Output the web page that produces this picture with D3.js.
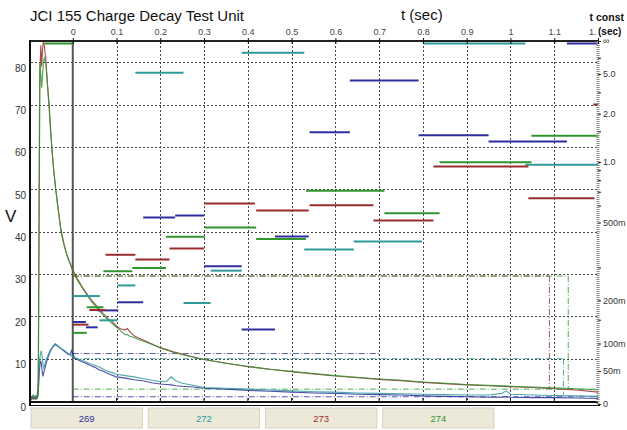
<!DOCTYPE html>
<html lang="en">
<head>
<meta charset="UTF-8">
<title>JCI 155 Charge Decay Test Unit</title>
<script src="https://cdnjs.cloudflare.com/ajax/libs/d3/7.8.5/d3.min.js"></script>
<style>
  body { margin: 0; background: #fff; }
  svg text { font-family: 'Liberation Sans', Arial, sans-serif; }
</style>
</head>
<body>
<svg id="chart" width="627" height="430"></svg>
<script>
// series (test numbers shown on the buttons)
const seriesNames = ["269", "272", "273", "274"];
const seriesColors = { "269": "#2e2e9e", "272": "#2f9a9a", "273": "#9a2c2c", "274": "#2f962f" };

// axis ticks
const timeTicks = [0, 0.1, 0.2, 0.3, 0.4, 0.5, 0.6, 0.7, 0.8, 0.9, 1, 1.1, 1.2];
const voltTicks = [0, 10, 20, 30, 40, 50, 60, 70, 80];
const tauTicks = [Infinity, 5, 2, 1, 0.5, 0.2, 0.1, 0.05, 0];
const tauLabels = ["∞", "5.0", "2.0", "1.0", "500m", "200m", "100m", "50m", "0"];
const tauMinor = [10, 3, 1.5, 0.9, 0.8, 0.7, 0.6, 0.3, 0.15];

// decay curves, volts against seconds
const tBig = [
  -0.1, -0.095, -0.09, -0.085, -0.081, -0.079, -0.078, -0.077, -0.076, -0.075,
  -0.073, -0.071, -0.069, -0.067, -0.065, -0.063, -0.061, -0.058, -0.054, -0.051,
  -0.048, -0.044, -0.039, -0.033, -0.027, -0.02, -0.013, -0.006, 0, 0.01,
  0.02, 0.03, 0.04, 0.05, 0.06, 0.07, 0.08, 0.09, 0.1, 0.11,
  0.12, 0.125, 0.13, 0.14, 0.15, 0.17, 0.2, 0.23, 0.26, 0.3,
  0.35, 0.4, 0.45, 0.5, 0.55, 0.6, 0.65, 0.7, 0.75, 0.8,
  0.85, 0.9, 0.95, 1.0, 1.05, 1.1, 1.15, 1.2
];
const v273 = [
  0.6, 1.0, 0.4, 0.8, 1.2, 3, 24, 42, 60, 78,
  84, 79, 83, 85, 84, 82, 80, 75, 70, 65,
  60, 55, 50, 45, 40.5, 37, 34.5, 32.5, 31, 29,
  27.2, 25.6, 24.2, 23, 21.8, 20.6, 19.5, 18.8, 17.6, 17.0,
  16.8, 17.1, 16.4, 15.4, 14.9, 14.0, 12.6, 11.6, 10.8, 9.8,
  8.9, 8.1, 7.5, 6.9, 6.4, 5.9, 5.5, 5.1, 4.8, 4.4,
  4.1, 3.8, 3.6, 3.4, 3.2, 2.9, 2.6, 2.1
];
const v274 = [
  0.4, 0.9, 1.1, 0.5, 0.7, 2, 14, 48, 70, 80,
  77, 74, 77, 80, 81, 80.5, 79, 75, 69, 64,
  60, 55, 50, 45, 40, 36.8, 34.2, 32.4, 30.6, 28.6,
  27, 25.4, 23.8, 22.6, 21.4, 20.2, 19.2, 18.3, 17.4, 16.5,
  15.6, 15.7, 15.3, 15.0, 14.5, 13.8, 12.5, 11.5, 10.7, 9.8,
  8.9, 8.2, 7.5, 7.0, 6.5, 6.0, 5.6, 5.2, 4.9, 4.5,
  4.2, 3.9, 3.7, 3.5, 3.3, 3.1, 2.9, 2.6
];
const tSmall = [
  -0.1, -0.095, -0.092, -0.089, -0.086, -0.084, -0.082, -0.08, -0.078, -0.076,
  -0.074, -0.072, -0.07, -0.068, -0.066, -0.063, -0.06, -0.055, -0.05, -0.045,
  -0.04, -0.035, -0.03, -0.025, -0.02, -0.015, -0.01, -0.006, -0.003, 0,
  0.005, 0.01, 0.02, 0.03, 0.04, 0.05, 0.06, 0.07, 0.08, 0.09,
  0.1, 0.12, 0.14, 0.16, 0.18, 0.2, 0.215, 0.225, 0.235, 0.25,
  0.275, 0.3, 0.35, 0.4, 0.45, 0.5, 0.55, 0.6, 0.65, 0.7,
  0.75, 0.8, 0.85, 0.9, 0.95, 0.98, 0.99, 1.0, 1.05, 1.1,
  1.15, 1.2
];
const v269 = [
  0.8, 0.3, 1.2, 0.5, 1.0, 0.4, 0.6, 1.0, 3.5, 7.5,
  9.5, 9.0, 7.0, 5.8, 6.8, 8.0, 9.2, 10.8, 12.0, 12.8,
  13.4, 13.0, 12.6, 12.2, 11.8, 11.4, 11.0, 10.9, 11.9, 11.2,
  10.0, 9.8, 9.3, 8.9, 8.4, 8.0, 7.4, 7.0, 6.5, 6.1,
  5.7, 5.4, 5.0, 4.8, 4.3, 4.0, 3.9, 3.8, 3.6, 3.5,
  3.3, 3.0, 2.8, 2.5, 2.3, 2.1, 1.9, 1.8, 1.6, 1.5,
  1.4, 1.2, 1.1, 1.0, 0.9, 0.9, 1.0, 0.9, 0.8, 0.8,
  0.7, 0.6
];
const v272 = [
  0.5, 1.0, 0.6, 1.4, 0.7, 1.2, 0.8, 2.5, 6.0, 9.5,
  11.0, 11.9, 10.5, 8.6, 7.8, 9.0, 10.0, 11.2, 12.2, 13.0,
  13.5, 13.1, 12.7, 12.3, 12.0, 11.6, 11.2, 11.0, 10.8, 10.5,
  10.3, 10.0, 9.6, 9.2, 8.8, 8.5, 8.0, 7.5, 7.0, 6.7,
  6.3, 6.0, 5.7, 5.3, 4.9, 4.6, 4.7, 5.7, 4.8, 4.2,
  3.7, 3.2, 3.0, 2.8, 2.6, 2.4, 2.2, 2.1, 1.9, 1.8,
  1.7, 1.6, 1.5, 1.4, 1.4, 1.8, 2.4, 1.6, 1.4, 1.3,
  1.2, 1.1
];

// time constant readings: [from s, to s, t const s]
const tc269 = [
  [0, 0.03, 0.147], [0.03, 0.057, 0.135], [0.056, 0.104, 0.175], [0.102, 0.161, 0.196],
  [0.161, 0.234, 0.531], [0.234, 0.3, 0.543], [0.3, 0.386, 0.308], [0.386, 0.462, 0.13],
  [0.462, 0.539, 0.431], [0.541, 0.633, 1.5], [0.633, 0.79, 4.16], [0.79, 0.95, 1.437],
  [0.95, 1.129, 1.315], [1.129, 1.2, Infinity]
];
const tc272 = [
  [0, 0.062, 0.213], [0.061, 0.102, 0.151], [0.102, 0.143, 0.244], [0.143, 0.253, 5.3],
  [0.253, 0.315, 0.194], [0.315, 0.386, 0.292], [0.386, 0.529, 15.5], [0.529, 0.642, 0.373],
  [0.642, 0.798, 0.407], [0.801, 1.034, Infinity], [1.034, 1.2, 0.972]
];
const tc273 = [
  [0, 0.036, 0.141], [0.038, 0.075, 0.176], [0.075, 0.143, 0.351], [0.143, 0.221, 0.333],
  [0.221, 0.3, 0.377], [0.3, 0.416, 0.62], [0.419, 0.539, 0.574], [0.541, 0.687, 0.609],
  [0.687, 0.824, 0.514], [0.824, 1.041, 0.952], [1.041, 1.192, 0.658], [1.189, 1.2, 2.38]
];
const tc274 = [
  [-0.064, 0, Infinity], [0, 0.032, 0.123], [0.032, 0.07, 0.183], [0.07, 0.136, 0.29],
  [0.136, 0.213, 0.301], [0.213, 0.302, 0.429], [0.302, 0.419, 0.476], [0.419, 0.533, 0.419],
  [0.533, 0.712, 0.716], [0.712, 0.838, 0.557], [0.838, 1.048, 1.004], [1.048, 1.2, 1.425]
];

// decay measurement markers: start level V, crossing time s, end level V
const levelHi = { "269": 11.2, "272": 10.0, "273": 29.5, "274": 29.5 };
const crossT = { "269": 0.701, "272": 1.121, "273": 1.089, "274": 1.132 };
const crossEnd = { "272": 1.4, "273": 3.0, "274": 3.0 };
const levelLo = { "269": 1.0, "274": 2.8 };

const svg = d3.select("#chart");
const x = d3.scaleLinear().domain([-0.1, 1.2]).range([29, 598]);
const yV = d3.scaleLinear().domain([0, 85]).range([401, 41]);
const yF = d3.scaleLinear().domain([0, 1]).range([404, 41]);
const toF = tau => tau === Infinity ? 1 : tau / (tau + 0.5);
const yTau = tau => tau === Infinity ? yF(1) + 2 : yF(toF(tau));

svg.append("rect").attr("width", 627).attr("height", 430).attr("fill", "#fff");

svg.append("defs").append("clipPath").attr("id", "plot")
  .append("rect").attr("x", 30).attr("y", 40).attr("width", 568).attr("height", 362);

// grid
const grid = svg.append("g").attr("stroke", "#444").attr("stroke-dasharray", "2,2").attr("stroke-width", 1);
grid.selectAll(".gx").data(timeTicks.filter(d => d > 0 && d < 1.2)).join("line")
  .attr("x1", d => Math.round(x(d)) + 0.5).attr("x2", d => Math.round(x(d)) + 0.5)
  .attr("y1", 42).attr("y2", 401);
grid.selectAll(".gy").data(voltTicks.filter(d => d > 0)).join("line")
  .attr("x1", 31).attr("x2", 597)
  .attr("y1", d => Math.round(yV(d)) + 0.5).attr("y2", d => Math.round(yV(d)) + 0.5);

// t = 0 line
svg.append("line").attr("x1", x(0)).attr("x2", x(0)).attr("y1", 41).attr("y2", 402)
  .attr("stroke", "#555").attr("stroke-width", 2);

const plot = svg.append("g").attr("clip-path", "url(#plot)");

// decay markers
const markers = plot.append("g").attr("fill", "none").attr("stroke-width", 1).attr("stroke-dasharray", "6,2,1,2");
seriesNames.forEach(s => {
  const g = markers.append("g").attr("stroke", seriesColors[s]).attr("opacity", 0.8);
  g.append("line").attr("x1", x(0)).attr("x2", x(crossT[s]))
    .attr("y1", yV(levelHi[s])).attr("y2", yV(levelHi[s]));
  if (s in levelLo) {
    g.append("line").attr("x1", x(0)).attr("x2", x(1.2))
      .attr("y1", yV(levelLo[s])).attr("y2", yV(levelLo[s]));
  }
  if (s in crossEnd) {
    g.append("line").attr("x1", x(crossT[s])).attr("x2", x(crossT[s]))
      .attr("y1", yV(levelHi[s])).attr("y2", yV(crossEnd[s]));
  }
});

// curves
const line = d3.line().x(d => x(d[0])).y(d => yV(d[1]));
const curves = [
  ["269", tSmall, v269], ["272", tSmall, v272], ["273", tBig, v273], ["274", tBig, v274]
];
curves.forEach(([s, ts, vs]) => {
  plot.append("path").datum(ts.map((t, i) => [t, vs[i]]))
    .attr("d", line).attr("fill", "none")
    .attr("stroke", seriesColors[s]).attr("stroke-width", 1.1).attr("opacity", 0.85);
});

// time constant bars
const tcData = { "269": tc269, "272": tc272, "273": tc273, "274": tc274 };
seriesNames.forEach(s => {
  plot.append("g").selectAll("line").data(tcData[s]).join("line")
    .attr("x1", d => x(d[0])).attr("x2", d => x(d[1]))
    .attr("y1", d => yTau(d[2]) + 0.5).attr("y2", d => yTau(d[2]) + 0.5)
    .attr("stroke", seriesColors[s]).attr("stroke-width", 2);
});

// frame
svg.append("line").attr("x1", 29).attr("x2", 598).attr("y1", 41).attr("y2", 41)
  .attr("stroke", "#222").attr("stroke-width", 2);
svg.append("line").attr("x1", 30).attr("x2", 30).attr("y1", 40).attr("y2", 406)
  .attr("stroke", "#111").attr("stroke-width", 2);
svg.append("line").attr("x1", 29).attr("x2", 598).attr("y1", 402).attr("y2", 402)
  .attr("stroke", "#111").attr("stroke-width", 2);
svg.append("line").attr("x1", 29).attr("x2", 600).attr("y1", 405.5).attr("y2", 405.5)
  .attr("stroke", "#111").attr("stroke-width", 1);
svg.append("line").attr("x1", 598).attr("x2", 598).attr("y1", 41).attr("y2", 405)
  .attr("stroke", "#888").attr("stroke-width", 3).attr("stroke-dasharray", "1,1");
svg.append("g").selectAll("line").data(timeTicks.slice(1, -1)).join("line")
  .attr("x1", d => x(d)).attr("x2", d => x(d)).attr("y1", 398).attr("y2", 402)
  .attr("stroke", "#111");

// top axis (time); the last label is partly hidden behind "(sec)" as in the original
const topAxis = svg.append("g").attr("transform", "translate(0,41)")
  .call(d3.axisTop(x).tickValues(timeTicks).tickSize(3).tickPadding(3)
    .tickFormat(d => d === 1.2 ? "1." : String(d)));
topAxis.select(".domain").remove();
topAxis.selectAll(".tick line").attr("y1", 3).attr("stroke", "#111");
topAxis.selectAll(".tick text").attr("font-size", 9).attr("fill", "#444");
topAxis.selectAll(".tick text").filter(d => d === 1.2).attr("text-anchor", "end").attr("dx", -2);

// left axis (volts)
const leftAxis = svg.append("g").attr("transform", "translate(30,0)")
  .call(d3.axisLeft(yV).tickValues(voltTicks).tickSize(0).tickPadding(4));
leftAxis.select(".domain").remove();
leftAxis.selectAll(".tick text").attr("font-size", 10).attr("fill", "#333").attr("dy", "0.9em");

// right axis (time constant)
const rightAxis = svg.append("g").attr("transform", "translate(598,0)")
  .call(d3.axisRight(yF).tickValues(tauTicks.map(toF)).tickSize(3).tickPadding(2)
    .tickFormat((d, i) => tauLabels[i]));
rightAxis.select(".domain").remove();
rightAxis.selectAll(".tick line").attr("stroke", "#222");
rightAxis.selectAll(".tick text").attr("font-size", 9).attr("fill", "#333");
svg.append("g").selectAll("line").data(tauMinor).join("line")
  .attr("x1", 598).attr("x2", 601).attr("y1", d => yTau(d)).attr("y2", d => yTau(d))
  .attr("stroke", "#222");

// titles
svg.append("text").attr("x", 30).attr("y", 21).attr("font-size", 15).attr("fill", "#111")
  .text("JCI 155 Charge Decay Test Unit");
svg.append("text").attr("x", 401).attr("y", 20).attr("font-size", 15).attr("fill", "#111")
  .text("t (sec)");
svg.append("text").attr("x", 5).attr("y", 222).attr("font-size", 17).attr("fill", "#111")
  .text("V");
svg.append("text").attr("x", 624).attr("y", 21).attr("font-size", 10.5).attr("font-weight", "bold")
  .attr("text-anchor", "end").attr("fill", "#111").text("t const");
svg.append("text").attr("x", 598).attr("y", 35).attr("font-size", 10).attr("font-weight", "bold")
  .attr("fill", "#111").text("(sec)");

// buttons
const band = d3.scaleBand().domain(seriesNames).range([31, 494]).paddingInner(0.05);
const btn = svg.append("g").selectAll("g").data(seriesNames).join("g")
  .attr("transform", d => `translate(${band(d)},408)`);
btn.append("rect").attr("width", band.bandwidth()).attr("height", 20)
  .attr("fill", "#ece9d8").attr("stroke", "#d6d2c2");
btn.append("text").attr("x", band.bandwidth() / 2).attr("y", 14).attr("text-anchor", "middle")
  .attr("font-size", 9.5).attr("fill", d => seriesColors[d]).text(d => d);
</script>
</body>
</html>
